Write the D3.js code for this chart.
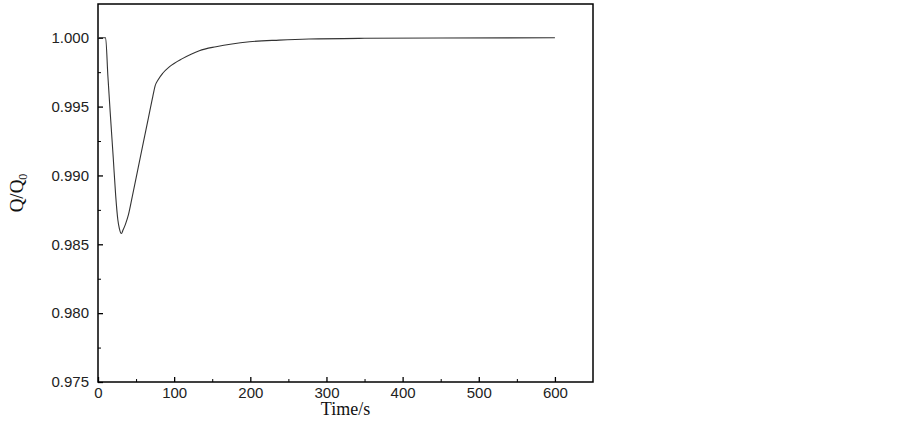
<!DOCTYPE html>
<html>
<head>
<meta charset="utf-8">
<script src="https://cdn.jsdelivr.net/npm/d3@7"></script>
<style>
  body { margin: 0; background: #fff; }
  .tick text { font-family: Arial, "Liberation Sans", sans-serif; font-size: 15px; fill: #222; }
  .title { font-family: "Times New Roman", "Liberation Serif", serif; font-size: 18px; fill: #111; }
</style>
</head>
<body>
<div id="chart"></div>
<script>
(function(){
  // time (s) and Q/Q0
  const time = [0, 10, 13, 16, 20, 23.2, 26, 28, 30.7, 33, 36, 40, 45, 52, 59.5, 66, 72, 75, 79,
    85, 94, 111.4, 133, 155, 199, 238, 277, 350, 450, 600];
  const ratio = [1.0, 1.0, 0.9972, 0.9946, 0.9913, 0.98855, 0.9868, 0.98615, 0.98578, 0.98605, 0.98645, 0.98715,
    0.98846, 0.99035, 0.99238, 0.99413, 0.99575, 0.9965, 0.99695,
    0.99742, 0.9979, 0.9985, 0.99906, 0.99935, 0.99971, 0.99983, 0.99991, 0.99996, 0.99998, 1.0];

  const xTicks = [0, 100, 200, 300, 400, 500, 600];
  const yTicks = [0.975, 0.980, 0.985, 0.990, 0.995, 1.000];

  const width = 903;
  const height = 434;
  const margin = { top: 4, right: 310, bottom: 52, left: 98 };

  const svg = d3.select('#chart')
    .append('svg')
    .attr('width', width)
    .attr('height', height);

  const x = d3.scaleLinear()
    .domain([0, 650])
    .range([margin.left, width - margin.right]);
  const y = d3.scaleLinear()
    .domain([0.975, 1.00245])
    .range([height - margin.bottom, margin.top]);

  // minor ticks first
  svg.append('g')
    .attr('transform', 'translate(0,' + (height - margin.bottom) + ')')
    .call(d3.axisBottom(x).tickValues(d3.range(50, 650, 100)).tickSize(-3).tickFormat(''))
    .call(g => g.select('.domain').remove());
  svg.append('g')
    .attr('transform', 'translate(' + margin.left + ',0)')
    .call(d3.axisLeft(y).tickValues(d3.range(0, 5).map(i => 0.9775 + i * 0.005)).tickSize(-3).tickFormat(''))
    .call(g => g.select('.domain').remove());

  // major ticks
  const xAxis = svg.append('g')
    .attr('transform', 'translate(0,' + (height - margin.bottom) + ')')
    .call(d3.axisBottom(x).tickValues(xTicks).tickSize(-5).tickPadding(5).tickFormat(d3.format('d')));
  xAxis.select('.domain').remove();
  xAxis.selectAll('.tick line').attr('stroke-width', 1.3);

  const yAxis = svg.append('g')
    .attr('transform', 'translate(' + margin.left + ',0)')
    .call(d3.axisLeft(y).tickValues(yTicks).tickSize(-5).tickPadding(9).tickFormat(d3.format('.3f')));
  yAxis.select('.domain').remove();
  yAxis.selectAll('.tick line').attr('stroke-width', 1.3);

  // frame
  svg.append('rect')
    .attr('x', margin.left)
    .attr('y', margin.top)
    .attr('width', width - margin.right - margin.left)
    .attr('height', height - margin.bottom - margin.top)
    .attr('fill', 'none')
    .attr('stroke', '#000')
    .attr('stroke-width', 1.5);

  const line = d3.line()
    .x((d, i) => x(time[i]))
    .y(d => y(d))
    .curve(d3.curveMonotoneX);

  svg.append('path')
    .datum(ratio)
    .attr('d', line)
    .attr('fill', 'none')
    .attr('stroke', '#333')
    .attr('stroke-width', 1.1);

  // axis titles
  svg.append('text')
    .attr('class', 'title')
    .attr('x', (margin.left + width - margin.right) / 2)
    .attr('y', 415)
    .attr('text-anchor', 'middle')
    .text('Time/s');

  const yt = svg.append('text')
    .attr('class', 'title')
    .style('font-size', '19px')
    .attr('transform', 'translate(23,' + 193 + ') rotate(-90)')
    .attr('text-anchor', 'middle');
  yt.append('tspan').text('Q/Q');
  yt.append('tspan').attr('font-size', '12px').attr('dy', 4).text('0');
})();
</script>
</body>
</html>
